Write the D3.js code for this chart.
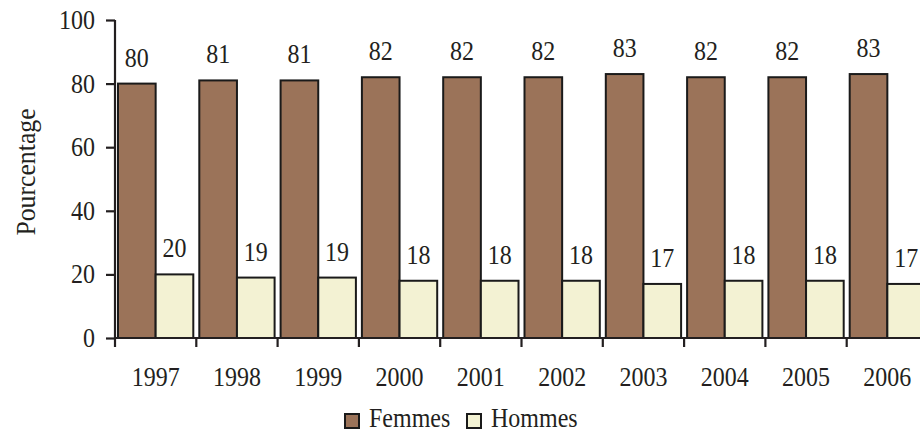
<!DOCTYPE html>
<html><head><meta charset="utf-8">
<script src="https://cdn.jsdelivr.net/npm/d3@7"></script>
<style>body{margin:0;background:#fff}svg{display:block}</style>
</head><body>
<script>
const years = ["1997","1998","1999","2000","2001","2002","2003","2004","2005","2006"];
const femmes = [80,81,81,82,82,82,83,82,82,83];
const hommes = [20,19,19,18,18,18,17,18,18,17];
const seriesNames = ["Femmes","Hommes"];
const seriesColors = ["#9b7359","#f3f2d3"];
const yTicks = [0,20,40,60,80,100];

const FONT="Liberation Serif, Times New Roman, DejaVu Serif, serif";
const TXT="#231f20";
const SY=1.1;
const W=920,H=434;
const svg=d3.select("body").append("svg").attr("width",W).attr("height",H)
  .attr("font-family",FONT);
const y=d3.scaleLinear().domain([0,100]).range([338,20]);
const x=d3.scaleBand().domain(years).range([115,928]).padding(0);
const xs=d3.scaleBand().domain(seriesNames).range([3,x.bandwidth()-3]).padding(0);
const color=d3.scaleOrdinal().domain(seriesNames).range(seriesColors);
const data=years.map((yr,i)=>({year:yr,vals:[{s:"Femmes",v:femmes[i]},{s:"Hommes",v:hommes[i]}]}));

// text placed at baseline point with slight vertical stretch
function place(sel, fx, fy){
  sel.attr("transform",(d,i)=>`translate(${fx(d,i)},${fy(d,i)}) scale(1,${SY})`)
     .attr("font-family",FONT).attr("fill",TXT);
}

const g=svg.append("g");
const groups=g.selectAll("g.yr").data(data).join("g").attr("transform",d=>`translate(${x(d.year)},0)`);
groups.selectAll("rect").data(d=>d.vals).join("rect")
  .attr("x",d=>xs(d.s)).attr("width",xs.bandwidth())
  .attr("y",d=>y(d.v)).attr("height",d=>y(0)-y(d.v))
  .attr("fill",d=>color(d.s)).attr("stroke","#1a1a1a").attr("stroke-width",2);
groups.selectAll("text").data(d=>d.vals).join("text")
  .attr("text-anchor","middle").attr("font-size",24).text(d=>d.v)
  .call(place, d=>xs(d.s)+xs.bandwidth()/2, d=>y(d.v)-17);

// y axis
const ya=svg.append("g").attr("transform","translate(115,0)")
  .call(d3.axisLeft(y).tickValues(yTicks).tickSize(9).tickPadding(10));
ya.attr("font-family",FONT).attr("font-size",24);
ya.select(".domain").attr("stroke",TXT).attr("stroke-width",2.2).attr("d","M0,"+y(100)+"V"+y(0));
ya.selectAll(".tick line").attr("stroke",TXT).attr("stroke-width",2.2);
ya.selectAll(".tick text").attr("x",null).attr("dy",null)
  .call(place, ()=>-20, ()=>8.5);

// x axis
const xa=svg.append("g").attr("transform",`translate(0,${y(0)})`);
xa.append("line").attr("x1",115).attr("x2",W).attr("y1",0).attr("y2",0).attr("stroke",TXT).attr("stroke-width",2.2);
xa.selectAll("line.t").data(years).join("line").attr("class","t")
  .attr("x1",d=>x(d)).attr("x2",d=>x(d)).attr("y1",0).attr("y2",9).attr("stroke",TXT).attr("stroke-width",2.2);
xa.selectAll("text").data(years).join("text")
  .attr("text-anchor","middle").attr("font-size",24).text(d=>d)
  .call(place, d=>x(d)+x.bandwidth()/2, ()=>48);

// y title
svg.append("text").attr("transform","translate(35,172) rotate(-90) scale(1.03,1.1)").attr("text-anchor","middle")
  .attr("font-size",25).attr("fill",TXT).attr("font-family",FONT).text("Pourcentage");

// legend
const leg=svg.append("g");
const legX=[345,467];
seriesNames.forEach((s,i)=>{
  leg.append("rect").attr("x",legX[i]).attr("y",414).attr("width",14).attr("height",14)
    .attr("fill",color(s)).attr("stroke","#1a1a1a").attr("stroke-width",2);
  leg.append("text").datum(s).attr("font-size",24).text(s)
    .call(place, ()=>legX[i]+24, ()=>427);
});
</script>
</body></html>
